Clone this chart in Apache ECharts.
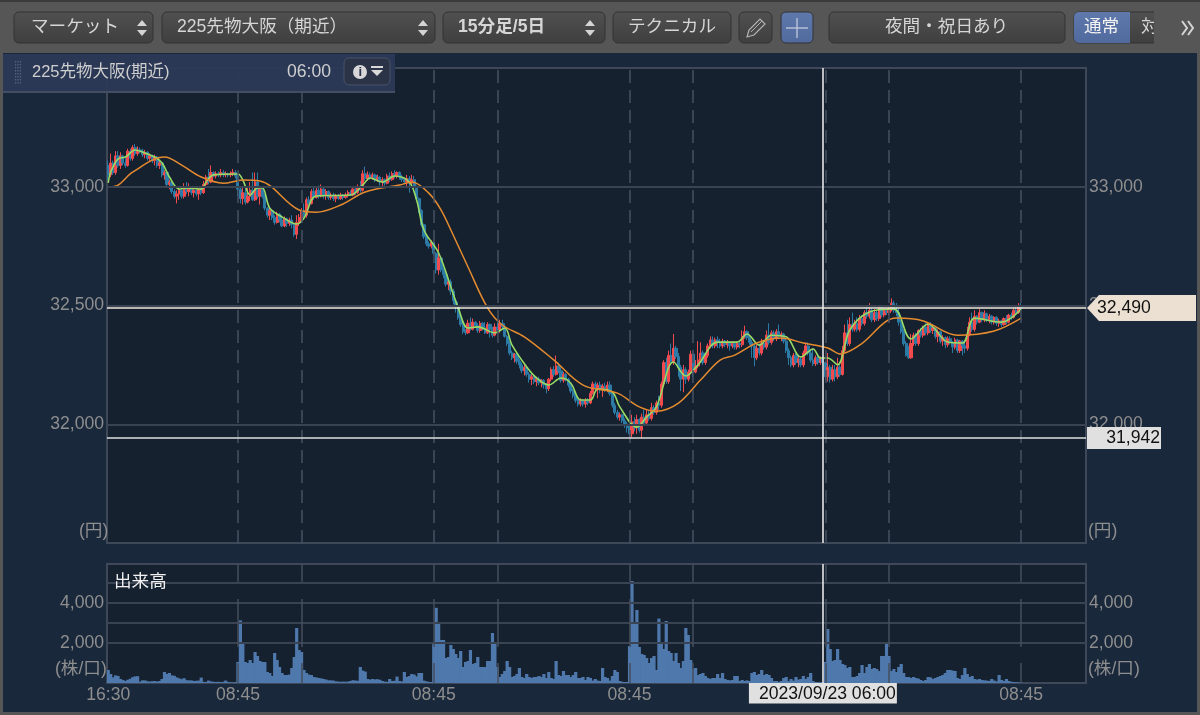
<!DOCTYPE html>
<html><head><meta charset="utf-8">
<style>html,body{margin:0;padding:0;background:#1a283c}#c{width:1200px;height:715px}</style>
<script src="https://cdn.jsdelivr.net/npm/echarts@6/dist/echarts.min.js"></script>
</head><body><div id="c"></div>
<script>
const FONT='"Liberation Sans","Noto Sans CJK JP",sans-serif';
const slotCount=400;
const timeTicks={0:'16:30',53:'08:45',133:'08:45',213:'08:45',373:'08:45'};
const sessionLines=[53,79,133,159,213,239,293,319,373];
const crosshairSlot=292;
const crosshairLabel='2023/09/23 06:00';
const currentPrice=32490, lowPrice=31942;
const priceTicks=[33000,32500,32000];
const volumeTicks=[4000,2000];
const volumeGrid=[2000,3000,4000,5000];
// [open, close, low, high]
const candles=[
[33090,33050,33030,33110],[33050,33100,33040,33140],[33100,33060,33050,33110],[33060,33130,33050,33150],[33130,33090,33080,33150],
[33090,33130,33075,33145],[33130,33100,33090,33135],[33100,33090,33080,33120],[33090,33150,33085,33160],[33150,33120,33110,33160],
[33120,33165,33110,33175],[33165,33140,33130,33180],[33140,33155,33130,33170],[33155,33150,33140,33165],[33150,33135,33125,33160],
[33135,33145,33120,33155],[33145,33120,33110,33150],[33120,33130,33105,33140],[33130,33110,33100,33135],[33110,33125,33090,33135],
[33125,33090,33080,33130],[33090,33100,33075,33110],[33100,33050,33040,33105],[33050,33060,33030,33070],[33060,33010,33000,33065],
[33010,33020,32990,33030],[33020,32980,32970,33025],[32980,32960,32950,32990],[32960,32970,32930,32985],[32970,32985,32945,32995],
[32985,32960,32950,32990],[32960,33000,32950,33015],[33000,32980,32970,33020],[32980,32995,32960,33015],[32995,32975,32965,33000],
[32975,32985,32955,32995],[32985,32970,32960,32990],[32970,32990,32945,33000],[32990,32975,32965,32995],[32975,33010,32970,33025],
[33010,33040,33000,33050],[33040,33020,33010,33075],[33020,33060,33015,33090],[33060,33045,33040,33065],[33045,33055,33035,33065],
[33055,33050,33040,33065],[33050,33060,33040,33075],[33060,33050,33040,33070],[33050,33055,33040,33065],[33055,33050,33040,33060],
[33050,33055,33040,33065],[33055,33060,33045,33075],[33060,33045,33035,33070],
[33045,32990,32960,33050],[32990,32950,32930,33000],[32950,32975,32925,33000],[32975,32935,32925,32990],[32935,32960,32930,33000],
[32960,32985,32940,33020],[32985,32945,32940,33060],[32945,33020,32940,33060],[33020,32960,32950,33060],[32960,32990,32925,33000],
[32990,32960,32950,33000],[32960,32910,32900,32970],[32910,32880,32870,32915],[32880,32900,32860,32915],[32900,32870,32860,32905],
[32870,32850,32840,32880],[32850,32885,32845,32895],[32885,32860,32850,32890],[32860,32835,32830,32880],[32835,32865,32830,32875],
[32865,32845,32830,32870],[32845,32860,32835,32870],[32860,32840,32825,32880],[32840,32800,32790,32845],[32800,32850,32780,32880],
[32850,32870,32835,32885],[32870,32900,32860,32910],
[32900,32880,32860,32930],[32880,32945,32870,32955],[32945,32930,32920,32960],[32930,32980,32925,32990],[32980,32955,32945,33000],
[32955,32985,32950,33000],[32985,32960,32950,33005],[32960,32990,32955,33010],[32990,32965,32950,33000],[32965,32980,32945,32990],
[32980,32955,32945,32985],[32955,32965,32945,32975],[32965,32950,32940,32975],[32950,32960,32935,32970],[32960,32950,32945,32970],
[32950,32965,32945,32975],[32965,32955,32945,32970],[32955,32965,32950,32975],[32965,32975,32955,32985],[32975,32965,32960,32985],
[32965,32990,32960,33000],[32990,32975,32965,33000],[32975,33000,32970,33010],[33000,32985,32975,33025],[32985,33055,32980,33070],
[33055,33035,33025,33085],[33035,33050,33025,33065],[33050,33040,33030,33060],[33040,33050,33030,33060],[33050,33030,33020,33055],
[33030,33040,33020,33050],[33040,33020,33005,33045],[33020,33030,33000,33040],[33030,33015,33005,33035],[33015,33045,33010,33055],
[33045,33030,33020,33060],[33030,33055,33025,33065],[33055,33045,33035,33070],[33045,33060,33035,33065],[33060,33040,33030,33065],
[33040,33030,33020,33050],[33030,33020,33010,33040],[33020,33035,33000,33050],[33035,33015,32975,33045],[33015,33030,33005,33050],
[33030,33000,32985,33045],[33000,32950,32940,33005],[32950,32900,32890,32955],[32900,32840,32830,32905],[32840,32790,32780,32845],
[32790,32760,32750,32795],[32760,32750,32740,32770],[32750,32765,32740,32775],
[32765,32720,32710,32770],[32720,32650,32635,32725],[32650,32700,32630,32760],[32700,32650,32640,32705],[32650,32630,32615,32660],
[32630,32590,32580,32640],[32590,32600,32565,32610],[32600,32560,32545,32610],[32560,32520,32505,32570],[32520,32500,32470,32530],
[32500,32450,32440,32515],[32450,32420,32410,32460],[32420,32390,32380,32430],[32390,32385,32375,32400],[32385,32425,32380,32440],
[32425,32400,32395,32450],[32400,32430,32395,32445],[32430,32415,32405,32435],[32415,32395,32385,32425],[32395,32425,32385,32435],
[32425,32405,32395,32430],[32405,32385,32380,32430],[32385,32420,32380,32430],[32420,32400,32365,32425],[32400,32375,32365,32410],
[32375,32410,32370,32425],
[32410,32395,32385,32430],[32395,32425,32385,32440],[32425,32410,32400,32440],[32410,32370,32365,32425],[32370,32340,32330,32375],
[32340,32300,32290,32350],[32300,32280,32270,32310],[32280,32295,32260,32300],[32295,32265,32255,32300],[32265,32250,32235,32275],
[32250,32225,32215,32260],[32225,32240,32205,32250],[32240,32210,32200,32245],[32210,32190,32175,32220],[32190,32200,32165,32210],
[32200,32180,32170,32205],[32180,32190,32160,32200],[32190,32175,32165,32200],[32175,32185,32155,32190],[32185,32165,32150,32190],
[32165,32150,32130,32175],[32150,32190,32140,32195],[32190,32230,32180,32240],[32230,32210,32200,32245],[32210,32245,32205,32290],
[32245,32225,32215,32260],[32225,32185,32175,32240],[32185,32210,32175,32220],[32210,32190,32180,32215],[32190,32165,32155,32195],
[32165,32140,32130,32170],[32140,32120,32110,32150],[32120,32100,32090,32125],[32100,32085,32075,32110],[32085,32100,32075,32110],
[32100,32085,32075,32105],[32085,32100,32070,32110],[32100,32090,32080,32110],[32090,32130,32085,32140],[32130,32170,32125,32180],
[32170,32150,32140,32180],[32150,32165,32110,32175],[32165,32150,32130,32180],[32150,32160,32115,32170],[32160,32145,32135,32175],
[32145,32165,32135,32180],[32165,32130,32120,32180],[32130,32080,32070,32140],[32080,32050,32040,32090],[32050,32030,32020,32060],
[32030,32040,32015,32050],[32040,32015,32005,32045],[32015,32000,31985,32025],[32000,31985,31965,32010],
[31985,31960,31945,32000],[31960,32010,31945,32040],[32010,31985,31970,32030],[31985,32020,31960,32040],[32020,31975,31965,32025],
[31975,32030,31942,32045],[32030,32005,31995,32060],[32005,32040,32000,32060],[32040,32025,32015,32060],[32025,32070,32015,32090],
[32070,32050,32040,32080],[32050,32090,32040,32100],[32090,32080,32060,32120],[32080,32170,32070,32180],[32170,32260,32160,32270],
[32260,32180,32170,32280],[32180,32290,32170,32310],[32290,32260,32250,32340],[32260,32320,32250,32380],[32320,32285,32275,32330],
[32285,32240,32200,32300],[32240,32190,32140,32250],[32190,32230,32135,32250],[32230,32190,32170,32240],[32190,32220,32180,32230],
[32220,32295,32210,32310],
[32295,32220,32200,32300],[32220,32245,32215,32270],[32245,32270,32235,32350],[32270,32300,32260,32345],[32300,32260,32250,32310],
[32260,32290,32250,32300],[32290,32330,32280,32340],[32330,32355,32320,32370],[32355,32330,32320,32370],[32330,32355,32320,32365],
[32355,32345,32320,32370],[32345,32330,32320,32360],[32330,32350,32320,32360],[32350,32335,32325,32355],[32335,32345,32320,32355],
[32345,32330,32310,32350],[32330,32340,32320,32350],[32340,32325,32315,32345],[32325,32340,32315,32350],[32340,32335,32320,32350],
[32335,32370,32325,32395],[32370,32390,32360,32415],[32390,32365,32355,32395],[32365,32345,32335,32375],[32345,32330,32280,32355],
[32330,32280,32245,32335],[32280,32320,32270,32335],[32320,32300,32290,32340],[32300,32340,32290,32360],[32340,32325,32315,32350],
[32325,32375,32315,32395],[32375,32345,32335,32425],[32345,32385,32335,32395],[32385,32360,32350,32395],[32360,32390,32350,32400],
[32390,32370,32360,32420],[32370,32380,32350,32390],[32380,32350,32340,32385],[32350,32310,32300,32360],[32310,32280,32250,32320],
[32280,32250,32240,32290],[32250,32290,32240,32300],[32290,32260,32250,32300],[32260,32275,32240,32285],[32275,32250,32240,32285],
[32250,32300,32240,32310],[32300,32330,32290,32345],[32330,32300,32290,32345],[32300,32270,32260,32310],[32270,32255,32245,32320],
[32255,32280,32245,32290],[32280,32260,32250,32290],[32260,32275,32250,32285],[32275,32260,32250,32285],
[32260,32200,32185,32265],[32200,32240,32180,32300],[32240,32190,32175,32250],[32190,32230,32180,32250],[32230,32200,32180,32250],
[32200,32240,32190,32280],[32240,32210,32200,32250],[32210,32310,32205,32330],[32310,32385,32300,32420],[32385,32340,32330,32440],
[32340,32420,32330,32450],[32420,32400,32390,32470],[32400,32425,32390,32440],[32425,32400,32390,32450],[32400,32445,32390,32460],
[32445,32425,32415,32460],[32425,32470,32415,32480],[32470,32455,32445,32495],[32455,32480,32445,32510],[32480,32440,32430,32490],
[32440,32470,32430,32485],[32470,32445,32435,32480],[32445,32490,32435,32500],[32490,32460,32450,32500],[32460,32480,32450,32490],
[32480,32470,32460,32490],[32470,32485,32460,32495],
[32485,32510,32475,32530],[32510,32480,32470,32520],[32480,32470,32455,32510],[32470,32430,32415,32490],[32430,32390,32380,32440],
[32390,32340,32330,32400],[32340,32290,32285,32350],[32290,32280,32275,32330],[32280,32340,32275,32380],[32340,32375,32330,32385],
[32375,32340,32330,32385],[32340,32395,32330,32400],[32395,32375,32365,32405],[32375,32410,32365,32415],[32410,32385,32375,32425],
[32385,32420,32375,32430],[32420,32395,32385,32430],[32395,32405,32380,32420],[32405,32370,32360,32410],[32370,32390,32345,32400],
[32390,32350,32340,32395],[32350,32365,32330,32375],[32365,32335,32320,32370],[32335,32360,32325,32370],[32360,32345,32335,32370],
[32345,32325,32300,32350],[32325,32355,32315,32365],[32355,32310,32300,32360],[32310,32350,32300,32355],[32350,32330,32290,32355],
[32330,32320,32300,32345],[32320,32380,32310,32410],[32380,32430,32370,32450],[32430,32400,32390,32470],[32400,32455,32390,32480],
[32455,32430,32420,32460],[32430,32470,32425,32485],[32470,32440,32430,32475],[32440,32465,32430,32480],[32465,32440,32430,32470],
[32440,32455,32425,32465],[32455,32430,32420,32460],[32430,32450,32420,32455],[32450,32425,32415,32455],[32425,32435,32410,32445],
[32435,32420,32410,32440],[32420,32445,32415,32450],[32445,32430,32420,32460],[32430,32460,32425,32465],[32460,32450,32440,32470],
[32450,32480,32445,32490],[32480,32470,32460,32500],[32470,32500,32465,32510],[32500,32490,32480,32510]
];
const volumes=[
650,450,280,380,350,200,150,100,160,210,290,330,340,70,130,130,90,70,90,100,70,100,200,550,450,500,380,360,280,230,190,240,140,130,130,100,110,120,270,60,50,120,80,60,50,60,40,60,120,50,30,30,40,
1050,3130,2000,1050,1000,1150,1000,1550,1350,1100,1050,1050,550,500,350,1500,1150,800,500,400,400,420,750,1300,2750,1650,1550,
650,500,420,400,300,280,250,230,200,170,130,130,120,80,70,60,70,60,70,100,140,120,110,800,620,570,200,170,200,180,190,160,100,70,60,200,100,110,320,100,80,550,300,350,450,420,330,500,500,120,80,60,50,
2000,3760,3000,2150,2150,1250,1300,1900,1700,1450,1250,1600,800,1050,1100,1650,950,1000,1300,800,800,800,1100,1100,2500,2050,
800,300,450,600,1100,800,300,350,450,750,300,250,450,300,250,300,300,350,300,450,250,550,250,200,1100,400,350,600,400,400,300,400,550,250,250,300,150,300,250,120,200,120,100,750,300,250,120,350,650,550,100,60,50,50,
1850,5100,3000,3650,1800,1450,1400,1250,1000,1250,1350,650,3220,2000,1700,3100,1600,1500,1100,1500,1000,750,1100,2750,2400,1150,
700,750,400,450,500,350,250,200,250,250,450,250,500,200,150,130,150,350,350,100,150,100,130,100,500,550,400,450,650,400,450,400,250,100,100,60,100,250,300,100,200,120,300,170,200,350,200,300,500,100,50,40,30,40,
1050,2700,1700,1100,1150,1700,1150,950,900,750,800,300,300,350,500,900,500,800,950,700,750,700,600,1350,1350,2000,1350,600,
700,550,800,950,500,300,300,250,300,250,220,150,100,150,300,280,200,250,300,350,400,500,650,650,620,600,250,200,400,750,450,300,350,200,170,200,150,130,120,100,200,120,80,400,150,100,200,100,60,50,40,30,20
];
// moving averages read at sample points: [slot, price]
const fastAverage=[[0,33016],[1,33062],[4,33117],[7,33125],[11,33155],[14,33146],[19,33125],[22,33100],[25,33041],[29,32990],[32,32995],[38,32990],[40,33020],[43,33050],[53,33054],[55,33028],[58,32965],[61,32995],[63,32995],[66,32910],[71,32873],[77,32843],[80,32868],[85,32961],[99,32965],[104,33007],[107,33037],[112,33020],[117,33045],[123,33020],[126,32944],[129,32818],[135,32721],[140,32578],[143,32490],[147,32405],[151,32410],[158,32385],[162,32405],[165,32333],[171,32241],[175,32195],[180,32165],[185,32195],[189,32173],[193,32102],[197,32102],[200,32148],[206,32135],[209,32073],[216,31988],[220,32031],[224,32073],[231,32262],[236,32203],[241,32250],[249,32346],[257,32346],[261,32380],[266,32333],[271,32375],[277,32368],[283,32283],[288,32317],[291,32279],[294,32279],[298,32250],[303,32397],[311,32473],[321,32485],[328,32359],[335,32422],[343,32346],[349,32342],[354,32447],[365,32430],[373,32485]];
const slowAverage=[[0,32999],[4,33007],[10,33062],[23,33125],[30,33091],[38,33041],[47,33015],[55,33028],[62,33024],[78,32902],[85,32893],[95,32923],[105,32978],[119,33007],[124,33020],[131,32973],[136,32902],[140,32818],[147,32662],[155,32490],[161,32418],[170,32368],[182,32271],[194,32165],[208,32131],[217,32073],[224,32055],[233,32089],[242,32186],[250,32270],[256,32291],[265,32342],[275,32363],[284,32342],[294,32321],[299,32296],[307,32333],[322,32447],[333,32435],[347,32375],[362,32393],[373,32447]];

const categories=Array.from({length:slotCount},(_,i)=>timeTicks[i]||'');
const chart=echarts.init(document.getElementById('c'),null,{renderer:'canvas'});
const TXT='#8e8e8e', BORDER='#3e4858', PLOT='#16212f', GRIDC='#3a4351', FS=17.6;
const grad=(a,b)=>new echarts.graphic.LinearGradient(0,0,0,1,[{offset:0,color:a},{offset:1,color:b}]);
const btn=(x,y,w,h,a,b,r)=>({type:'rect',shape:{x,y,width:w,height:h,r:r||[5,5,5,5]},style:{fill:grad(a||'#505050',b||'#3f3f3f'),stroke:'#333',lineWidth:1},z:20});
const txt=(x,y,t,o,z)=>({type:'text',x,y,style:Object.assign({text:t,fill:'#d6d6d6',font:FS+'px '+FONT,textVerticalAlign:'middle'},o||{}),z:z||21});
const updown=x=>[
 {type:'polygon',shape:{points:[[x-5,26],[x+5,26],[x,20]]},style:{fill:'#d4d4d4'},z:21},
 {type:'polygon',shape:{points:[[x-5,30],[x+5,30],[x,36]]},style:{fill:'#d4d4d4'},z:21}];
const gripDots=[];for(let c=0;c<3;c++)for(let r=0;r<8;r++)gripDots.push({type:'rect',shape:{x:15+c*2.4,y:61+r*3,width:1.2,height:1.6},style:{fill:'#56627c'},z:31});
const graphic=[
 {type:'rect',shape:{x:0,y:0,width:1200,height:53},style:{fill:'#565656'},z:10},
 {type:'rect',shape:{x:0,y:0,width:1200,height:2},style:{fill:'#3a3a3a'},z:11},
 {type:'rect',shape:{x:0,y:53,width:3,height:662},style:{fill:'#565656'},z:10},
 {type:'rect',shape:{x:1197,y:53,width:3,height:662},style:{fill:'#565656'},z:10},
 {type:'rect',shape:{x:0,y:712,width:1200,height:3},style:{fill:'#565656'},z:10},
 btn(14,12,139,31),txt(31,27,'マーケット'),...updown(142),
 btn(162,12,273,31),txt(177,27,'225先物大阪（期近）'),...updown(423),
 btn(443,12,162,31),txt(458,27,'15分足/5日',{font:'bold '+FS+'px '+FONT}),...updown(590),
 btn(613,12,118,31),txt(628,27,'テクニカル'),
 btn(739,12,33,31),
 {type:'polygon',shape:{points:[[747,37],[749,30],[760,19],[765,24],[754,35]]},style:{fill:'#4a4a4a',stroke:'#b4b4b4',lineWidth:1.2},z:21},
 {type:'line',shape:{x1:751,y1:32,x2:762,y2:21},style:{stroke:'#b4b4b4',lineWidth:1},z:21},
 btn(781,12,32,31,'#6079ad','#506a9e'),
 {type:'line',shape:{x1:786,y1:28,x2:808,y2:28},style:{stroke:'#b9c4d8',lineWidth:1.4},z:21},
 {type:'line',shape:{x1:797,y1:18,x2:797,y2:38},style:{stroke:'#b9c4d8',lineWidth:1.4},z:21},
 btn(829,12,236,31),txt(885,27,'夜間・祝日あり'),
 btn(1074,12,96,31),
 {type:'rect',shape:{x:1074,y:12,width:56,height:31,r:[5,0,0,5]},style:{fill:grad('#6079ad','#506a9e')},z:20.5},
 txt(1084,27,'通常',{fill:'#f2f2f2'}),txt(1141,27,'対'),
 {type:'rect',shape:{x:1154,y:8,width:20,height:40},style:{fill:'#565656'},z:22},
 {type:'polyline',shape:{points:[[1182,21],[1187,28],[1182,35]]},style:{stroke:'#d4d4d4',fill:'none',lineWidth:2},z:21},
 {type:'polyline',shape:{points:[[1188,21],[1193,28],[1188,35]]},style:{stroke:'#d4d4d4',fill:'none',lineWidth:2},z:21},
 {type:'rect',shape:{x:3,y:54,width:392,height:38},style:{fill:'rgba(44,57,86,0.96)'},z:30},
 {type:'line',shape:{x1:3,y1:92,x2:395,y2:92},style:{stroke:'#444e63',lineWidth:2},z:31},
 ...gripDots,
 txt(32,72,'225先物大阪(期近)',{font:'16.5px '+FONT,fill:'#cfcfcf'},33),
 txt(287,72,'06:00',{fill:'#cfcfcf'},33),
 {type:'rect',shape:{x:344,y:58,width:46,height:27,r:[5,5,5,5]},style:{fill:'#2b3347',stroke:'#485268'},z:31},
 {type:'circle',shape:{cx:360,cy:72,r:7},style:{fill:'#d8d8d8'},z:32},
 txt(358.5,72,'i',{font:'bold 13px '+FONT,fill:'#2b3347'},33),
 {type:'rect',shape:{x:371,y:66,width:12,height:2},style:{fill:'#d8d8d8'},z:32},
 {type:'polygon',shape:{points:[[371,70],[383,70],[377,76]]},style:{fill:'#d8d8d8'},z:32},
 txt(79,531,'(円)',{fill:TXT}),
 txt(1088,531,'(円)',{fill:TXT}),
 txt(55,669,'(株/口)',{fill:TXT}),
 txt(1088,669,'(株/口)',{fill:TXT}),
 txt(114,582,'出来高',{fill:'#f0f0f0'})
];
const hideLine={show:false};
const mkYAxis=(gridIndex,min,max,interval,position,ticks)=>({type:'value',gridIndex,min,max,interval,position,scale:false,
  axisLine:hideLine,axisTick:hideLine,splitLine:hideLine,
  axisLabel:{color:TXT,fontFamily:FONT,fontSize:FS,margin:3,padding:[3,0,0,0],hideOverlap:false,showMinLabel:true,showMaxLabel:true,
    formatter:v=>ticks.includes(v)?v.toLocaleString('en-US'):''}});
const plain=(c,w,t)=>({color:c,width:w,type:t||'solid',opacity:1});
const volDash=[[5900,5060],[4200,1800],[1000,0]];
const volumeVLines=[];
sessionLines.forEach(i=>volDash.forEach(p=>volumeVLines.push([{xAxis:i,yAxis:p[0]},{xAxis:i,yAxis:p[1]}])));
const option={
 animation:false,backgroundColor:'#1a283c',graphic,
 grid:[
  {left:107,top:68,width:979,height:475,show:true,backgroundColor:PLOT,borderColor:BORDER,borderWidth:2},
  {left:107,top:564,width:979,height:119,show:true,backgroundColor:PLOT,borderColor:BORDER,borderWidth:2}],
 xAxis:[
  {type:'category',gridIndex:0,data:categories,boundaryGap:true,axisLine:hideLine,axisTick:hideLine,axisLabel:hideLine,splitLine:hideLine},
  {type:'category',gridIndex:1,data:categories,boundaryGap:true,axisLine:hideLine,axisTick:hideLine,splitLine:hideLine,
   axisLabel:{color:TXT,fontFamily:FONT,fontSize:FS,margin:3,interval:0,hideOverlap:false}}],
 yAxis:[
  mkYAxis(0,31500,33500,500,'left',priceTicks),
  mkYAxis(0,31500,33500,500,'right',priceTicks),
  mkYAxis(1,0,5950,2000,'left',volumeTicks),
  mkYAxis(1,0,5950,2000,'right',volumeTicks)],
 series:[
  {type:'line',name:'mainGuides',xAxisIndex:0,yAxisIndex:0,data:[],z:1,silent:true,
   markLine:{silent:true,symbol:'none',animation:false,label:{show:false},
    data:[...priceTicks.map(v=>({yAxis:v,lineStyle:plain(GRIDC,2)})),
          ...sessionLines.map(i=>({xAxis:i,lineStyle:{color:'#465061',width:1.5,type:[13,7]}}))]}},
  {type:'candlestick',name:'225先物大阪(期近)',xAxisIndex:0,yAxisIndex:0,data:candles,barWidth:2.6,z:3,
   itemStyle:{color:'#f14b4d',color0:'#2c7ba6',borderColor:'#f14b4d',borderColor0:'#2c7ba6',borderWidth:1}},
  {type:'line',name:'fast',xAxisIndex:0,yAxisIndex:0,data:fastAverage,smooth:0.35,showSymbol:false,z:4,lineStyle:{color:'#98dc66',width:1.6}},
  {type:'line',name:'slow',xAxisIndex:0,yAxisIndex:0,data:slowAverage,smooth:0.35,showSymbol:false,z:4,lineStyle:{color:'#e58b2f',width:1.5}},
  {type:'line',name:'cross',xAxisIndex:0,yAxisIndex:0,data:[],z:5,silent:true,
   markLine:{silent:true,symbol:'none',animation:false,label:{show:false},z:5,
    data:[{yAxis:currentPrice,lineStyle:plain('#f0eadc',1.7)},{yAxis:lowPrice,lineStyle:plain('#dfdfdf',1.7)},{xAxis:crosshairSlot,lineStyle:plain('#e6e6e6',1.6)}]}},
  {type:'custom',name:'priceTags',xAxisIndex:0,yAxisIndex:0,z:8,silent:true,clip:false,
   data:[[0,currentPrice,1],[0,lowPrice,0]],
   renderItem(params,api){
    const y=api.coord([0,api.value(1)])[1], x0=params.coordSys.x+params.coordSys.width+1;
    const v=api.value(1).toLocaleString('en-US');
    if(api.value(2)) return {type:'group',children:[
      {type:'polygon',shape:{points:[[x0,y],[x0+12,y-13],[x0+109,y-13],[x0+109,y+13],[x0+12,y+13]]},style:{fill:'#ebe0d2'}},
      {type:'text',x:x0+10,y,style:{text:v,fill:'#111',font:FS+'px '+FONT,textVerticalAlign:'middle'}}]};
    return {type:'group',children:[
      {type:'rect',shape:{x:x0,y:y-11,width:74,height:22},style:{fill:'#e0e0e0'}},
      {type:'text',x:x0+73,y,style:{text:v,fill:'#111',font:FS+'px '+FONT,textAlign:'right',textVerticalAlign:'middle'}}]};
   }},
  {type:'line',name:'volumeGuides',xAxisIndex:1,yAxisIndex:2,data:[],z:1,silent:true,
   markLine:{silent:true,symbol:'none',animation:false,label:{show:false},
    data:[...volumeGrid.map(v=>({yAxis:v,lineStyle:plain(GRIDC,2)})),...volumeVLines.map(p=>p),],
    lineStyle:plain('#454e5d',1.5)}},
  {type:'bar',name:'出来高',xAxisIndex:1,yAxisIndex:2,data:volumes,barCategoryGap:0,barGap:0,barWidth:3.2,z:3,itemStyle:{color:'#4f79ad'}},
  {type:'line',name:'volCross',xAxisIndex:1,yAxisIndex:2,data:[],z:5,silent:true,
   markLine:{silent:true,symbol:'none',animation:false,z:6,
    data:[{xAxis:crosshairSlot,lineStyle:plain('#e6e6e6',1.6),
     label:{show:true,position:'start',formatter:crosshairLabel,color:'#111',fontFamily:FONT,fontSize:FS,backgroundColor:'#e0e0e0',padding:[2,1,1,10],distance:0}}]}}
 ]
};
chart.setOption(option);
</script></body></html>
